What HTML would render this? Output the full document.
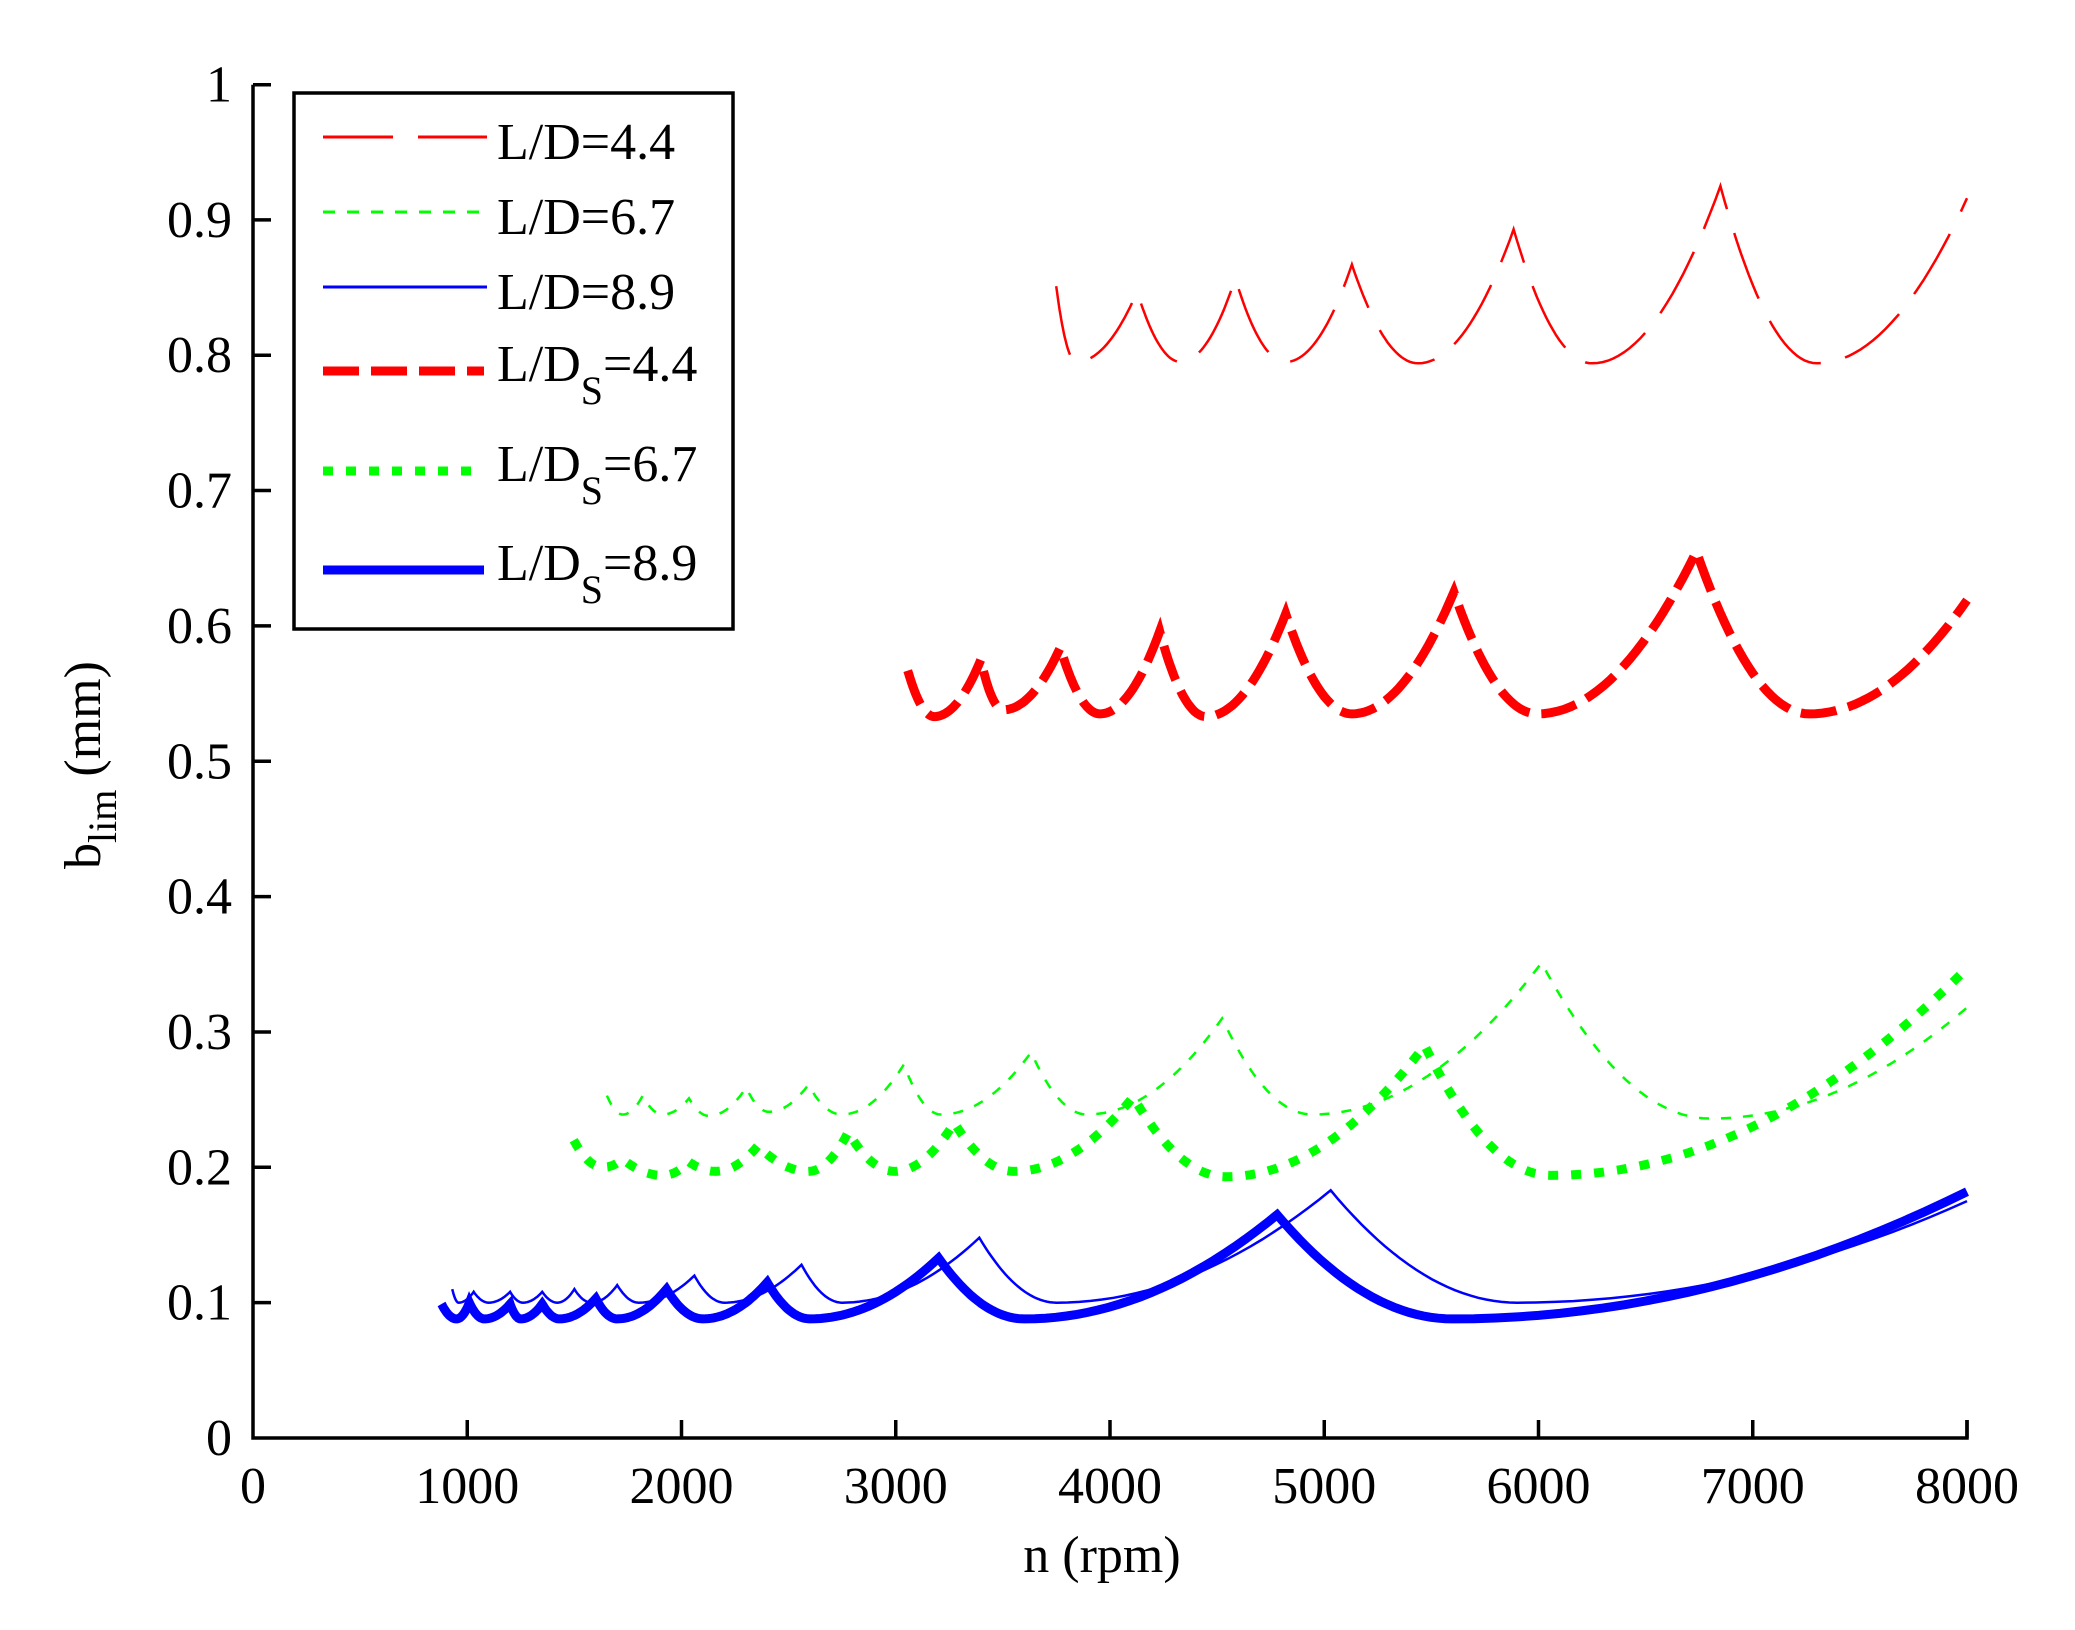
<!DOCTYPE html>
<html><head><meta charset="utf-8"><style>
html,body{margin:0;padding:0;background:#fff;}
svg{display:block;}
text{font-family:"Liberation Serif",serif;fill:#000;}
</style></head><body>
<svg id="s" width="2075" height="1630" viewBox="0 0 2075 1630" xmlns="http://www.w3.org/2000/svg">
<rect width="2075" height="1630" fill="#fff"/>
<g id="series"></g>
<!-- axes -->
<path d="M253,84.7 V1438 H1967 V1420" fill="none" stroke="#000" stroke-width="3.5"/>
<g stroke="#000" stroke-width="3.5" id="ticks"></g>
<g font-size="52" id="labels"></g>
<text x="1102" y="1572" font-size="52" text-anchor="middle">n (rpm)</text>
<text transform="translate(100,765) rotate(-90)" font-size="52" text-anchor="middle">b<tspan font-size="40" dy="16">lim</tspan><tspan dy="-16"> (mm)</tspan></text>
<!-- legend -->
<rect x="294" y="93" width="439" height="536" fill="#fff" stroke="#000" stroke-width="3.5"/>
<line x1="323" y1="137" x2="487" y2="137" stroke="#f00" stroke-width="3" stroke-dasharray="70,25"/>
<line x1="323" y1="212" x2="487" y2="212" stroke="#0f0" stroke-width="3" stroke-dasharray="12,12"/>
<line x1="323" y1="287" x2="487" y2="287" stroke="#00f" stroke-width="3"/>
<line x1="323" y1="371" x2="484" y2="371" stroke="#f00" stroke-width="9" stroke-dasharray="36,12"/>
<line x1="323" y1="471" x2="484" y2="471" stroke="#0f0" stroke-width="9" stroke-dasharray="10,13"/>
<line x1="323" y1="570" x2="484" y2="570" stroke="#00f" stroke-width="9"/>
<g font-size="52">
<text x="497" y="159">L/D=4.4</text>
<text x="497" y="234">L/D=6.7</text>
<text x="497" y="309">L/D=8.9</text>
<text x="497" y="381">L/D<tspan font-size="40" dy="23">S</tspan><tspan dy="-23">=4.4</tspan></text>
<text x="497" y="481">L/D<tspan font-size="40" dy="23">S</tspan><tspan dy="-23">=6.7</tspan></text>
<text x="497" y="580">L/D<tspan font-size="40" dy="23">S</tspan><tspan dy="-23">=8.9</tspan></text>
</g>
</svg>
<script>
var NS="http://www.w3.org/2000/svg";
function X(n){return 253+n*0.21425;}
function Y(b){return 1438-b*1353.5;}
function pts(keys){
  var out=[];
  for(var i=0;i<keys.length-1;i++){
    var A=keys[i],B=keys[i+1],N=24;
    for(var j=0;j<=N;j++){
      if(j==0&&i>0)continue;
      var n=A[0]+(B[0]-A[0])*j/N,b;
      if(A[1]>B[1]){var t=(B[0]-n)/(B[0]-A[0]);b=B[1]+(A[1]-B[1])*t*t;}
      else{var t=(n-A[0])/(B[0]-A[0]);b=A[1]+(B[1]-A[1])*t*t;}
      out.push(X(n).toFixed(1)+","+Y(b).toFixed(1));
    }
  }
  return "M"+out.join(" L");
}
function add(keys,col,w,dash){
  var p=document.createElementNS(NS,"path");
  p.setAttribute("d",pts(keys));p.setAttribute("fill","none");
  p.setAttribute("stroke",col);p.setAttribute("stroke-width",w);
  if(dash)p.setAttribute("stroke-dasharray",dash);
  document.getElementById("series").appendChild(p);
}
// red thin
add([[3749,0.851],[3842,0.795],[4127,0.847],[4330,0.795],[4585,0.857],[4820,0.795],[5129,0.867],[5438,0.794],[5884,0.893],[6250,0.794],[6849,0.925],[7300,0.794],[8000,0.916]],"#f00",2.5,"70,25");
// red bold
add([[3056,0.567],[3180,0.533],[3397,0.575],[3502,0.538],[3768,0.584],[3953,0.535],[4232,0.596],[4448,0.533],[4820,0.609],[5129,0.535],[5605,0.625],[5995,0.535],[6737,0.655],[7263,0.535],[8000,0.619]],"#f00",9,"36,12");
// green thin
add([[1652,0.253],[1726,0.239],[1819,0.253],[1912,0.239],[2035,0.251],[2128,0.238],[2302,0.259],[2407,0.241],[2592,0.261],[2747,0.239],[3038,0.276],[3211,0.239],[3632,0.285],[3892,0.239],[4523,0.31],[4943,0.239],[6014,0.351],[6800,0.236],[8000,0.318]],"#0f0",2.5,"10,12");
// green bold
add([[1497,0.22],[1633,0.2],[1726,0.206],[1912,0.194],[2035,0.204],[2159,0.197],[2357,0.216],[2592,0.197],[2778,0.226],[2995,0.197],[3273,0.233],[3551,0.197],[4108,0.252],[4541,0.193],[5469,0.29],[6057,0.194],[8000,0.347]],"#0f0",9,"10,13");
// blue thin
add([[930,0.11],[960,0.1],[1030,0.108],[1100,0.1],[1200,0.108],[1260,0.1],[1350,0.108],[1420,0.1],[1500,0.11],[1580,0.1],[1700,0.113],[1800,0.1],[2060,0.12],[2200,0.1],[2560,0.128],[2750,0.1],[3390,0.148],[3750,0.1],[5030,0.183],[5900,0.1],[8000,0.175]],"#00f",2.5);
// blue bold
add([[880,0.099],[950,0.088],[1010,0.1],[1080,0.088],[1200,0.099],[1250,0.088],[1350,0.099],[1430,0.088],[1600,0.103],[1700,0.088],[1930,0.11],[2100,0.088],[2400,0.115],[2600,0.088],[3200,0.133],[3600,0.088],[4780,0.165],[5600,0.088],[8000,0.182]],"#00f",9);
// ticks and labels
var tk=document.getElementById("ticks"),lb=document.getElementById("labels"),d="";
for(var i=0;i<=10;i++){
  var y=Y(i/10);
  if(i>0&&i<10)d+="M253,"+y+" H271 ";
  var t=document.createElementNS(NS,"text");
  t.setAttribute("x",232);t.setAttribute("y",y+17);t.setAttribute("text-anchor","end");
  t.textContent=(i==0?"0":i==10?"1":"0."+i);lb.appendChild(t);
}
d+="M253,84.7 H271 ";
for(var i=0;i<=8;i++){
  var x=X(i*1000);
  if(i>0)d+="M"+x+",1438 V1420 ";
  var t=document.createElementNS(NS,"text");
  t.setAttribute("x",x);t.setAttribute("y",1503);t.setAttribute("text-anchor","middle");
  t.textContent=String(i*1000);lb.appendChild(t);
}
var p=document.createElementNS(NS,"path");p.setAttribute("d",d);p.setAttribute("fill","none");tk.appendChild(p);
</script>
</body></html>
